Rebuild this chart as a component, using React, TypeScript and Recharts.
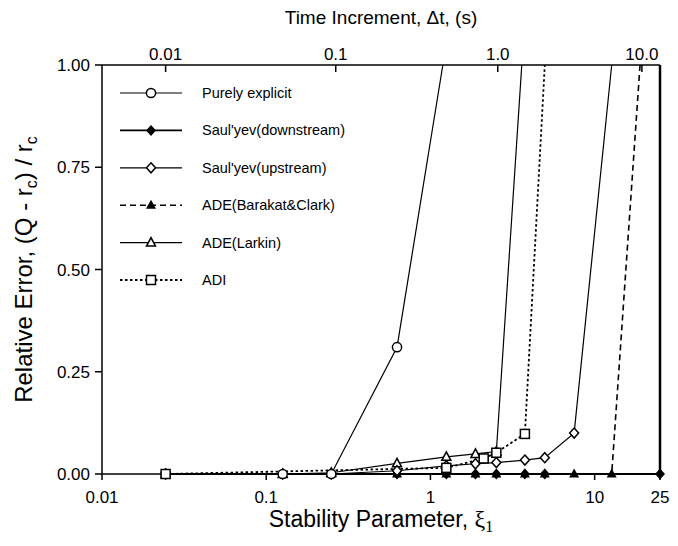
import { Label, Legend, Line, LineChart, ReferenceLine, XAxis, YAxis } from "recharts";

const FONT = "'Liberation Sans', Arial, Helvetica, sans-serif";
const SERIF = "'Liberation Serif', 'DejaVu Serif', serif";

// bottom axis: stability parameter (log)
const xiDomain = [0.01, 25];
const xiTicks = [0.01, 0.1, 1, 10, 25];
const xiTickLabels = ["0.01", "0.1", "1", "10", "25"];

// top axis: time increment, placed at the xi each value corresponds to
const dtTickXi = [0.0244, 0.265, 2.57, 19.4];
const dtTickLabels = ["0.01", "0.1", "1.0", "10.0"];

const errTicks = [0, 0.25, 0.5, 0.75, 1];
const errTickLabels = ["0.00", "0.25", "0.50", "0.75", "1.00"];

// series (points at 1.0 are where the curve leaves the top of the plot)
const explicitXi = [0.0244, 0.126, 0.249, 0.626, 1.19];
const explicitErr = [0, 0, 0, 0.31, 1.0];

const downXi = [0.0244, 0.126, 0.249, 0.626, 1.25, 1.88, 2.52, 3.76, 4.97, 25];
const downErr = [0, 0, 0, 0, 0, 0, 0, 0, 0, 0];

const upXi = [0.0244, 0.126, 0.249, 0.626, 1.25, 1.88, 2.52, 3.76, 4.97, 7.5, 12.7];
const upErr = [0, 0, 0, 0.008, 0.02, 0.025, 0.028, 0.034, 0.04, 0.1, 1.0];

const barakatXi = [0.0244, 0.126, 0.249, 0.626, 1.25, 1.88, 2.52, 3.76, 4.97, 7.5, 12.7, 18.9];
const barakatErr = [0, 0, 0, 0, 0, 0, 0, 0, 0, 0, 0, 1.0];

const larkinXi = [0.0244, 0.126, 0.249, 0.626, 1.25, 1.88, 2.52, 3.6];
const larkinErr = [0, 0, 0.003, 0.026, 0.042, 0.049, 0.055, 1.0];

const adiXi = [0.0244, 1.25, 2.11, 2.52, 3.76, 4.97];
const adiErr = [0, 0.015, 0.038, 0.052, 0.098, 1.0];

type Marker = "circle" | "diamondFilled" | "diamond" | "triangleFilled" | "triangle" | "square";

interface Series {
  key: string;
  name: string;
  xi: number[];
  err: number[];
  marker: Marker;
  width: number;
  dash?: string;
}

const series: Series[] = [
  { key: "explicit", name: "Purely explicit", xi: explicitXi, err: explicitErr, marker: "circle", width: 1.2 },
  { key: "down", name: "Saul'yev(downstream)", xi: downXi, err: downErr, marker: "diamondFilled", width: 1.8 },
  { key: "up", name: "Saul'yev(upstream)", xi: upXi, err: upErr, marker: "diamond", width: 1.2 },
  { key: "barakat", name: "ADE(Barakat&Clark)", xi: barakatXi, err: barakatErr, marker: "triangleFilled", width: 1.6, dash: "6 4" },
  { key: "larkin", name: "ADE(Larkin)", xi: larkinXi, err: larkinErr, marker: "triangle", width: 1.2 },
  { key: "adi", name: "ADI", xi: adiXi, err: adiErr, marker: "square", width: 1.8, dash: "2.5 2.5" },
];

const drawOrder = ["barakat", "down", "larkin", "up", "explicit", "adi"];

function marker(kind: Marker, cx: number, cy: number, key?: string | number) {
  const sw = 1.5;
  switch (kind) {
    case "circle":
      return <circle key={key} cx={cx} cy={cy} r={4.6} fill="#fff" stroke="#000" strokeWidth={sw} />;
    case "diamondFilled":
      return (
        <polygon key={key} points={`${cx},${cy - 5.5} ${cx + 5},${cy} ${cx},${cy + 5.5} ${cx - 5},${cy}`} fill="#000" />
      );
    case "diamond":
      return (
        <polygon
          key={key}
          points={`${cx},${cy - 5} ${cx + 4.5},${cy} ${cx},${cy + 5} ${cx - 4.5},${cy}`}
          fill="#fff"
          stroke="#000"
          strokeWidth={sw}
        />
      );
    case "triangleFilled":
      return <polygon key={key} points={`${cx},${cy - 5.5} ${cx + 5},${cy + 3.5} ${cx - 5},${cy + 3.5}`} fill="#000" />;
    case "triangle":
      return (
        <polygon
          key={key}
          points={`${cx},${cy - 5} ${cx + 4.5},${cy + 3.5} ${cx - 4.5},${cy + 3.5}`}
          fill="#fff"
          stroke="#000"
          strokeWidth={sw}
        />
      );
    case "square":
      return <rect key={key} x={cx - 4.5} y={cy - 4.5} width={9} height={9} fill="#fff" stroke="#000" strokeWidth={sw} />;
  }
}

const makeDot = (kind: Marker) => (p: any) => {
  if (p.value >= 1 || p.cx == null || p.cy == null) return <g key={p.index} />;
  return marker(kind, p.cx, p.cy, p.index);
};

// top axis ticks point inward (down) with the label just above the line
const renderTopTick = (p: any) => {
  const i = dtTickXi.indexOf(p.payload.value);
  return (
    <g key={`dt-${i}`}>
      <line x1={p.x} x2={p.x} y1={p.y} y2={p.y + 7} stroke="#000" strokeWidth={1.5} />
      <text x={p.x} y={p.y - 5} textAnchor="middle" fontSize={17} fontFamily={FONT} fill="#000">
        {dtTickLabels[i]}
      </text>
    </g>
  );
};

const renderLegend = () => (
  <svg width={260} height={230}>
    {series.map((s, i) => {
      const y = 10 + i * 37.4;
      return (
        <g key={s.key}>
          <line x1={0} x2={62} y1={y} y2={y} stroke="#000" strokeWidth={s.width} strokeDasharray={s.dash} />
          {marker(s.marker, 31, y)}
          <text x={82} y={y + 5} fontSize={14.5} fontFamily={FONT} fill="#000">
            {s.name}
          </text>
        </g>
      );
    })}
  </svg>
);

const tickStyle = { fontSize: 17, fontFamily: FONT, fill: "#000" };

export default function App() {
  const byKey = Object.fromEntries(series.map((s) => [s.key, s]));
  return (
    <div style={{ position: "absolute", left: 0, top: 0, background: "#fff" }}>
      <LineChart width={678} height={546} margin={{ top: 30, right: 18, bottom: 42, left: 40 }}>
        <XAxis
          xAxisId="bottom"
          dataKey="x"
          type="number"
          scale="log"
          domain={xiDomain}
          ticks={xiTicks}
          tickFormatter={(v: number) => xiTickLabels[xiTicks.indexOf(v)]}
          interval={0}
          height={30}
          tickSize={6}
          tickMargin={11}
          tick={tickStyle}
          axisLine={{ stroke: "#000", strokeWidth: 1.5 }}
          tickLine={{ stroke: "#000", strokeWidth: 1.5 }}
        >
          <Label
            content={(props: any) => {
              const vb = props.viewBox;
              return (
                <text x={vb.x + vb.width / 2} y={527} textAnchor="middle" fontSize={23} fontFamily={FONT} fill="#000">
                  Stability Parameter,{" "}
                  <tspan fontFamily={SERIF} fontSize={24}>
                    ξ
                  </tspan>
                  <tspan fontFamily={SERIF} fontSize={16} dy={5}>
                    1
                  </tspan>
                </text>
              );
            }}
          />
        </XAxis>
        {/* no series uses this axis; allowDataOverflow makes it take the domain as given */}
        <XAxis
          xAxisId="top"
          dataKey="x"
          orientation="top"
          type="number"
          scale="log"
          domain={xiDomain}
          allowDataOverflow
          ticks={dtTickXi}
          interval={0}
          height={35}
          tickSize={0}
          tickMargin={0}
          tickLine={false}
          tick={renderTopTick}
          axisLine={{ stroke: "#000", strokeWidth: 1.5 }}
        >
          <Label
            content={(props: any) => {
              const vb = props.viewBox;
              return (
                <text x={vb.x + vb.width / 2} y={24} textAnchor="middle" fontSize={19} fontFamily={FONT} fill="#000">
                  Time Increment, Δt, (s)
                </text>
              );
            }}
          />
        </XAxis>
        <YAxis
          type="number"
          domain={[0, 1]}
          ticks={errTicks}
          tickFormatter={(v: number) => errTickLabels[errTicks.indexOf(v)]}
          interval={0}
          width={62}
          tickSize={7}
          tickMargin={5}
          tick={tickStyle}
          axisLine={{ stroke: "#000", strokeWidth: 1.5 }}
          tickLine={{ stroke: "#000", strokeWidth: 1.5 }}
        >
          <Label
            content={(props: any) => {
              const vb = props.viewBox;
              const cy = vb.y + vb.height / 2;
              return (
                <text
                  x={32}
                  y={cy}
                  transform={`rotate(-90, 32, ${cy})`}
                  textAnchor="middle"
                  fontSize={24}
                  fontFamily={FONT}
                  fill="#000"
                >
                  Relative Error, (Q - r
                  <tspan fontSize={16} dy={5}>
                    c
                  </tspan>
                  <tspan dy={-5}>) / r</tspan>
                  <tspan fontSize={16} dy={5}>
                    c
                  </tspan>
                </text>
              );
            }}
          />
        </YAxis>
        {/* right frame edge at xi = 25 */}
        <ReferenceLine xAxisId="bottom" x={25} stroke="#000" strokeWidth={2.5} ifOverflow="extendDomain" />
        <Legend
          layout="vertical"
          align="center"
          verticalAlign="middle"
          content={renderLegend}
          wrapperStyle={{ position: "absolute", left: 120, top: 83, width: 260, height: 230 }}
        />
        {drawOrder.map((k) => {
          const s = byKey[k];
          const data = s.xi.map((x: number, i: number) => ({ x, y: s.err[i] }));
          return (
            <Line
              key={s.key}
              xAxisId="bottom"
              data={data}
              dataKey="y"
              name={s.name}
              type="linear"
              stroke="#000"
              strokeWidth={s.width}
              strokeDasharray={s.dash}
              dot={makeDot(s.marker)}
              activeDot={false}
              isAnimationActive={false}
            />
          );
        })}
      </LineChart>
    </div>
  );
}
